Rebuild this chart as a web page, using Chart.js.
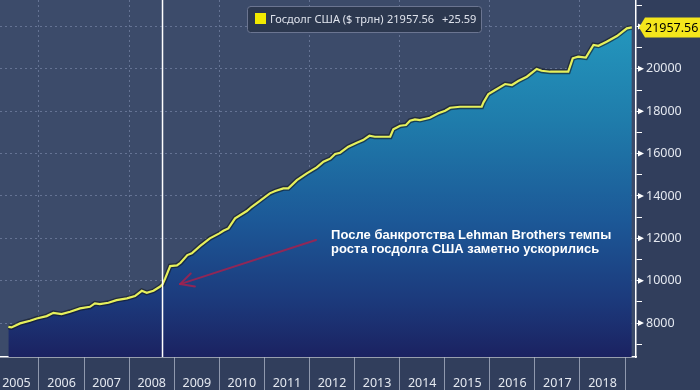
<!DOCTYPE html>
<html><head><meta charset="utf-8">
<script src="https://cdn.jsdelivr.net/npm/chart.js@4.4.1/dist/chart.umd.min.js"></script>
<style>html,body{margin:0;padding:0;background:#313e5c;}canvas{display:block}</style>
</head><body>
<canvas id="c" width="700" height="390"></canvas>
<script>
// ---- data (decimal years, $ bn) ----
const dates = [2005.32,2005.39,2005.58,2005.80,2005.95,2006.17,2006.32,2006.50,2006.69,2006.91,
  2007.13,2007.24,2007.35,2007.54,2007.72,2007.95,2008.13,2008.28,2008.39,2008.54,2008.68,2008.74,
  2008.80,2008.91,2009.06,2009.14,2009.29,2009.39,2009.57,2009.79,2010.00,2010.09,2010.20,2010.35,
  2010.61,2010.72,2010.87,2011.12,2011.24,2011.42,2011.53,2011.72,2011.94,2012.16,2012.31,2012.46,
  2012.57,2012.68,2012.86,2013.05,2013.19,2013.33,2013.45,2013.79,2013.86,2014.01,2014.14,2014.23,
  2014.34,2014.45,2014.67,2014.86,2015.01,2015.12,2015.34,2015.82,2015.86,2015.97,2016.12,2016.34,
  2016.49,2016.63,2016.82,2017.04,2017.15,2017.34,2017.74,2017.84,2017.96,2018.13,2018.30,2018.41,
  2018.59,2018.82,2019.04,2019.15];
const debt = [7825,7797,7986,8110,8220,8330,8486,8425,8535,8694,
  8770,8930,8897,8960,9086,9166,9275,9525,9430,9525,9714,9827,
  10110,10690,10724,10847,11210,11290,11635,12000,12235,12360,12470,12943,
  13290,13490,13727,14124,14232,14360,14360,14750,15068,15350,15616,15760,
  15979,16040,16324,16513,16640,16843,16796,16796,17145,17315,17350,17550,
  17617,17585,17693,17900,18025,18165,18212,18212,18420,18812,19000,19284,
  19237,19426,19629,19993,19912,19865,19865,20498,20575,20528,21125,21091,
  21280,21550,21914,21957.56];
const yearTicks = [2006,2007,2008,2009,2010,2011,2012,2013,2014,2015,2016,2017,2018,2019];
const valueTicks = [7000,8000,9000,10000,11000,12000,13000,14000,15000,16000,17000,18000,19000,20000,21000,22000,23000];
const seriesName = 'Госдолг США ($ трлн)';
const lastValueText = '21957.56';
const lastChangeText = '+25.59';
const lehmanDate = 2008.74;
const noteLines = ['После банкротства Lehman Brothers темпы', 'роста госдолга США заметно ускорились'];
const noteAnchor = [2012.48, 11990];
const arrowFrom = [2012.145, 11919];
const arrowTo = [2009.13, 9841];

const pts = dates.map((d, i) => ({x: d, y: debt[i]}));
const FONT = "'Noto Sans', 'Open Sans', sans-serif";

function fillGrad(ctx) {
  const ch = ctx.chart, a = ch.chartArea;
  if (!a) return 'rgba(0,0,0,0)';
  const g = ch.ctx.createLinearGradient(0, a.top, 0, a.bottom);
  g.addColorStop(0.05, '#2499bf');
  g.addColorStop(0.34, '#1f7cab');
  g.addColorStop(0.62, '#1c5897');
  g.addColorStop(0.84, '#1c3a7c');
  g.addColorStop(1, '#1b2261');
  return g;
}

const deco = {
  id: 'deco',
  beforeDraw(chart) {
    const c = chart.ctx, a = chart.chartArea;
    c.save();
    c.fillStyle = '#313e5c';
    c.fillRect(0, 0, chart.width, chart.height);
    c.fillStyle = '#3c4b6a';
    c.fillRect(a.left, a.top, a.right - a.left, a.bottom - a.top);
    c.restore();
  },
  afterDatasetsDraw(chart) {
    const c = chart.ctx, a = chart.chartArea, x = chart.scales.x;
    const px = x.getPixelForValue(lehmanDate);
    c.save();
    c.strokeStyle = '#ffffff';
    c.lineWidth = 1.5;
    c.beginPath(); c.moveTo(px, a.top); c.lineTo(px, a.bottom); c.stroke();
    c.restore();
  },
  afterDraw(chart) {
    const c = chart.ctx, a = chart.chartArea, xs = chart.scales.x, ys = chart.scales.y;
    c.save();
    // tick triangles
    c.fillStyle = '#ffffff';
    valueTicks.forEach(v => {
      if (v % 2000 !== 0) return;
      const y = ys.getPixelForValue(v);
      c.beginPath(); c.moveTo(a.right + 2, y - 3); c.lineTo(a.right + 8, y); c.lineTo(a.right + 2, y + 3); c.closePath(); c.fill();
    });
    // arrow
    const tx = xs.getPixelForValue(arrowTo[0]), ty = ys.getPixelForValue(arrowTo[1]);
    const fx = xs.getPixelForValue(arrowFrom[0]), fy = ys.getPixelForValue(arrowFrom[1]);
    c.strokeStyle = 'rgba(160,34,80,0.88)';
    c.lineWidth = 2;
    c.lineCap = 'round';
    c.beginPath(); c.moveTo(fx, fy); c.lineTo(tx, ty); c.stroke();
    const ang = Math.atan2(fy - ty, fx - tx);
    [0.47, -0.47].forEach(d => {
      c.beginPath(); c.moveTo(tx, ty);
      c.lineTo(tx + 15 * Math.cos(ang + d), ty + 15 * Math.sin(ang + d)); c.stroke();
    });
    // note text
    c.fillStyle = '#ffffff';
    c.font = "bold 13px 'Liberation Sans', Arial, sans-serif";
    c.textBaseline = 'alphabetic';
    c.textAlign = 'left';
    const nx = xs.getPixelForValue(noteAnchor[0]), ny = ys.getPixelForValue(noteAnchor[1]);
    noteLines.forEach((t, i) => c.fillText(t, nx, ny + i * 14.5));
    // legend box
    c.font = '11px ' + FONT;
    c.textBaseline = 'middle';
    const bx = 247, by = 6, bw = 234, bh = 26;
    c.fillStyle = '#2c384f';
    c.strokeStyle = '#6b7591';
    c.lineWidth = 1;
    c.beginPath(); c.roundRect(bx + 0.5, by + 0.5, bw, bh, 3); c.fill(); c.stroke();
    c.fillStyle = '#f2ea00';
    c.fillRect(255, 13, 11, 11);
    c.fillStyle = '#dfe3ec';
    c.fillText(seriesName, 270, 19.5);
    c.fillText(lastValueText, 387, 19.5);
    c.fillText(lastChangeText, 442, 19.5);
    // last value tag
    const ly = ys.getPixelForValue(debt[debt.length - 1]);
    c.fillStyle = '#f4e61c';
    c.beginPath();
    c.moveTo(a.right + 3, ly);
    c.lineTo(a.right + 9, ly - 10);
    c.lineTo(700, ly - 10);
    c.lineTo(700, ly + 10);
    c.lineTo(a.right + 9, ly + 10);
    c.closePath(); c.fill();
    c.fillStyle = '#000000';
    c.font = '12.5px ' + FONT;
    c.textBaseline = 'middle';
    c.fillText(lastValueText, a.right + 9, ly + 1);
    c.restore();
  }
};

new Chart(document.getElementById('c'), {
  type: 'line',
  data: {
    datasets: [
      {data: pts, fill: 'start', backgroundColor: fillGrad, borderColor: 'rgba(18,24,32,0.6)', borderWidth: 5, pointRadius: 0, tension: 0, order: 2},
      {data: pts, fill: false, borderColor: '#e6f05c', borderWidth: 2.2, pointRadius: 0, tension: 0, order: 1}
    ]
  },
  options: {
    responsive: false,
    animation: false,
    devicePixelRatio: 1,
    layout: {padding: 0},
    plugins: {legend: {display: false}, tooltip: {enabled: false}},
    scales: {
      x: {
        type: 'linear', min: 2005.135, max: 2019.243, z: 1,
        afterBuildTicks: s => { s.ticks = yearTicks.map(v => ({value: v})); },
        afterFit: s => { s.height = 33; s.paddingLeft = 0; s.paddingRight = 0; },
        grid: {
          color: c => (c.tick && c.tick.value % 2 === 0) ? 'rgba(135,150,182,0.55)' : 'rgba(0,0,0,0)',
          tickColor: 'rgba(175,183,202,0.75)', tickLength: 33, lineWidth: 1
        },
        border: {color: '#ffffff', width: 1.5, dash: [2, 3]},
        ticks: {
          callback: v => String(v - 1), labelOffset: -22.54, padding: -14,
          color: '#e4e8f0', font: {family: FONT, size: 12.5}, autoSkip: false, maxRotation: 0
        }
      },
      y: {
        position: 'right', min: 6400, max: 23250, z: 1,
        afterBuildTicks: s => { s.ticks = valueTicks.map(v => ({value: v})); },
        afterFit: s => { s.width = 64; s.paddingTop = 0; s.paddingBottom = 0; },
        grid: {
          color: c => (c.tick && c.tick.value % 2000 === 0) ? 'rgba(135,150,182,0.55)' : 'rgba(0,0,0,0)',
          tickColor: '#ffffff', tickLength: 6, lineWidth: 1
        },
        border: {color: '#ffffff', width: 1.5, dash: [2, 3]},
        ticks: {
          callback: v => (v % 2000 === 0 ? String(v) : ''), padding: 4,
          color: '#e4e8f0', font: {family: FONT, size: 12.5}
        }
      }
    }
  },
  plugins: [deco]
});
</script>
</body></html>
